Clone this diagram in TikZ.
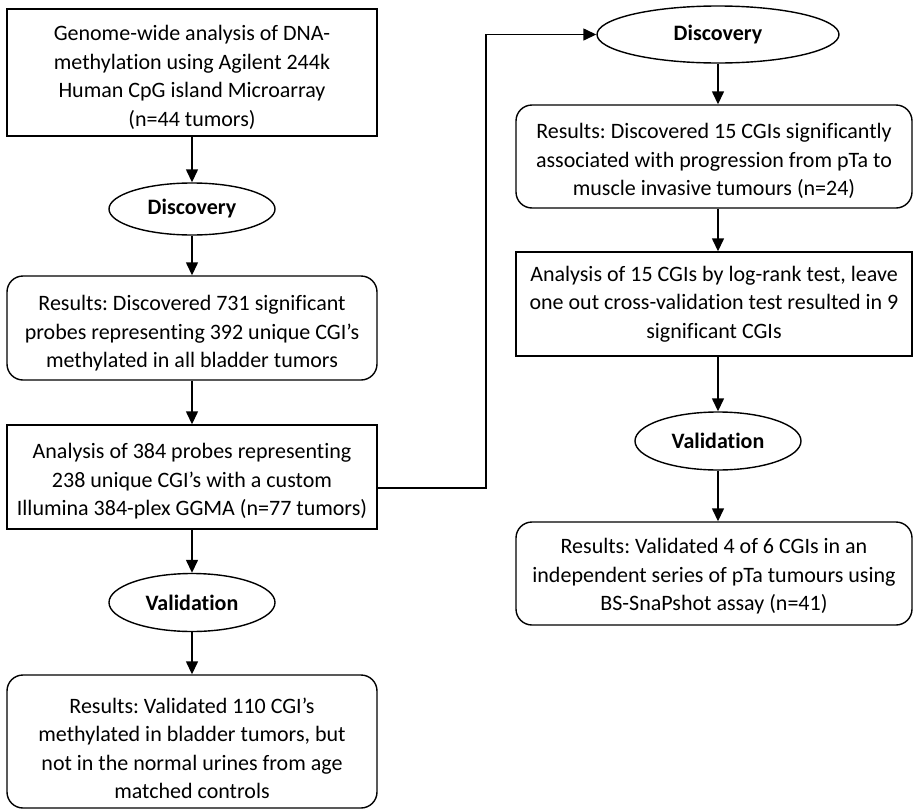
\documentclass[tikz,border=0pt]{standalone}
\usepackage{fontspec}
\setmainfont{Carlito}[Ligatures={NoCommon,NoRequired,NoContextual}]
\usetikzlibrary{arrows.meta,shapes.geometric}
\newcommand\lowr[1]{\rule{0pt}{#1}}
\begin{document}
\frenchspacing
\begin{tikzpicture}[x=1pt,y=-1pt,
  every node/.style={font=\frenchspacing\fontsize{22}{28.5}\selectfont, align=center, inner sep=0pt, line width=1.4pt},
  sqbox/.style={draw, rectangle},
  rbox/.style={draw, rectangle, rounded corners=16pt},
  oval/.style={draw, ellipse, font=\fontsize{22}{28.5}\selectfont\bfseries},
  conn/.style={line width=1.4pt, -{Triangle[length=13pt,width=12pt]}}
]
\useasboundingbox (0,0) rectangle (914,809);
% left column
\node[sqbox, minimum width=370pt, minimum height=127pt] (b1) at (192,72.5)
  {\lowr{25pt}Genome-wide analysis of DNA-\\methylation using Agilent 244k\\Human CpG island Microarray\\(n=44 tumors)};
\node[oval, minimum width=166pt, minimum height=52pt] (d1) at (192,209) {Discovery};
\node[rbox, minimum width=370pt, minimum height=104pt] (b2) at (192,328)
  {\lowr{26pt}Results: Discovered 731 significant\\probes representing 392 unique CGI’s\\methylated in all bladder tumors};
\node[sqbox, minimum width=370pt, minimum height=104pt] (b3) at (192,477)
  {\lowr{24pt}Analysis of 384 probes representing\\238 unique CGI’s with a custom\\Illumina 384-plex GGMA (n=77 tumors)};
\node[oval, minimum width=166pt, minimum height=58pt] (v1) at (192,602.5) {Validation};
\node[rbox, minimum width=370pt, minimum height=133pt] (b4) at (192,741.5)
  {\lowr{29pt}Results: Validated 110 CGI’s\\methylated in bladder tumors, but\\not in the normal urines from age\\matched controls};
% right column
\node[oval, minimum width=242pt, minimum height=57pt] (d2) at (718,34.5) {Discovery};
\node[rbox, minimum width=396pt, minimum height=103pt] (b5) at (714,156.5)
  {\lowr{25pt}Results: Discovered 15 CGIs significantly\\associated with progression from pTa to\\muscle invasive tumours (n=24)};
\node[sqbox, minimum width=396pt, minimum height=104pt] (b6) at (714,304)
  {Analysis of 15 CGIs by log-rank test, leave\\one out cross-validation test resulted in 9\\significant CGIs};
\node[oval, minimum width=166pt, minimum height=58pt] (v2) at (718,441) {Validation};
\node[rbox, minimum width=396pt, minimum height=103pt] (b7) at (714,573.5)
  {\lowr{21pt}Results: Validated 4 of 6 CGIs in an\\independent series of pTa tumours using\\BS-SnaPshot assay (n=41)};
\coordinate (jog) at (486,0);
% connectors
\draw[conn] (b1) -- (d1);
\draw[conn] (d1) -- (b2);
\draw[conn] (b2) -- (b3);
\draw[conn] (b3) -- (v1);
\draw[conn] (v1) -- (b4);
\draw[conn] ([yshift=-11pt]b3.east) -- ([yshift=-11pt]b3.east -| jog) |- (d2.west);
\draw[conn] (d2.south) -- (d2.south |- b5.north);
\draw[conn] (d2.south |- b5.south) -- (d2.south |- b6.north);
\draw[conn] (d2.south |- b6.south) -- (v2.north);
\draw[conn] (v2.south) -- (v2.south |- b7.north);
\end{tikzpicture}
\end{document}
